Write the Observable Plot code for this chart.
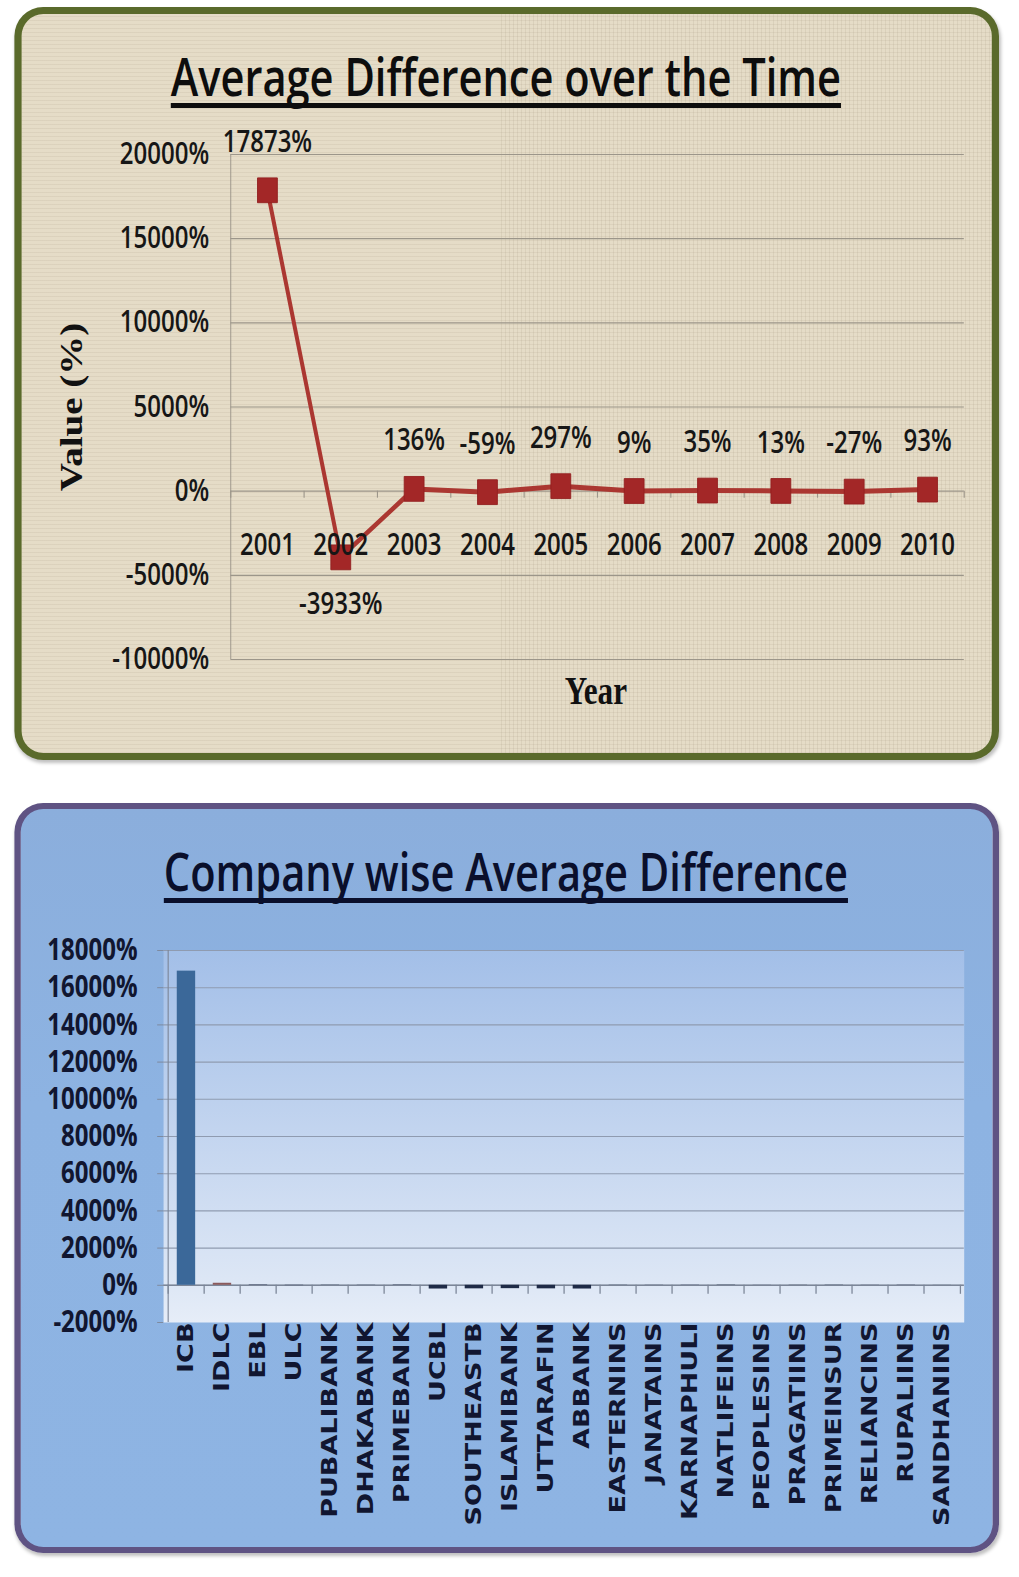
<!DOCTYPE html>
<html>
<head>
<meta charset="utf-8">
<script src="https://cdn.jsdelivr.net/npm/d3@7"></script>
<script src="https://cdn.jsdelivr.net/npm/@observablehq/plot@0.6"></script>
<style>
  html, body { margin: 0; padding: 0; background: #ffffff; }
  body { width: 1019px; height: 1577px; position: relative; overflow: hidden; }
  #stage { position: absolute; left: 0; top: 0; width: 1274px; height: 1577px;
           transform: scaleX(0.79984); transform-origin: 0 0; }
  .panel { position: absolute; box-sizing: border-box; }
  #p1 { left: 17.5px; top: 7px; width: 1231px; height: 753px;
        border-style: solid; border-color: #5a6a2b; border-width: 7px 9px;
        border-radius: 36px / 29px;
        background-color: #e5dcc7;
        background-image:
          repeating-linear-gradient(90deg, rgba(105,90,65,0.09) 0 1px, transparent 1px 5px),
          repeating-linear-gradient(0deg, rgba(105,90,65,0.08) 0 1px, transparent 1px 4px);
        box-shadow: 2px 3px 4px rgba(0,0,0,0.25); }
  #p2 { left: 17.5px; top: 803px; width: 1231px; height: 750px;
        border-style: solid; border-color: #5f5383; border-width: 6px 8px;
        border-radius: 36px / 29px;
        background: linear-gradient(#8baedc, #8db3e2 40%, #8eb4e3);
        box-shadow: 2px 3px 4px rgba(0,0,0,0.25); }
  .title { position: absolute; left: 0; width: 1265px; text-align: center;
           font-family: "Open Sans", "Noto Sans", sans-serif; font-size: 52px; line-height: 52px;
           font-weight: 600;
           text-decoration: underline; text-decoration-thickness: 5px; text-underline-offset: 7px;
           text-decoration-skip-ink: none; white-space: nowrap; }
  #t1 { top: 50px; color: #0d0d0d; }
  #t2 { top: 845px; color: #0a0f2b; }
  .chart { position: absolute; left: 0; }
  #c1 { top: 100px; }
  #c2 { top: 900px; }
</style>
</head>
<body>
<div id="stage">
  <div class="panel" id="p1"></div>
  <div class="panel" id="p2"></div>
  <div class="title" id="t1">Average Difference over the Time</div>
  <div class="chart" id="c1"></div>
  <div class="title" id="t2">Company wise Average Difference</div>
  <div class="chart" id="c2"></div>
</div>
<script>
// ---------- data: top chart ----------
const years = [2001, 2002, 2003, 2004, 2005, 2006, 2007, 2008, 2009, 2010];
const avgDiffPct = [17873, -3933, 136, -59, 297, 9, 35, 13, -27, 93];
const yTicksTop = [-10000, -5000, 0, 5000, 10000, 15000, 20000];

// ---------- data: bottom chart ----------
const companies = ["ICB", "IDLC", "EBL", "ULC", "PUBALIBANK", "DHAKABANK", "PRIMEBANK", "UCBL",
  "SOUTHEASTB", "ISLAMIBANK", "UTTARAFIN", "ABBANK", "EASTERNINS", "JANATAINS", "KARNAPHULI",
  "NATLIFEINS", "PEOPLESINS", "PRAGATIINS", "PRIMEINSUR", "RELIANCINS", "RUPALIINS", "SANDHANINS"];
const companyAvgDiffPct = [16890, 110, 20, -15, 12, 10, 18, -200, -190, -180, -190, -200,
  10, 8, -10, 15, 6, 9, 12, 7, 11, 5];
const yTicksBottom = [-2000, 0, 2000, 4000, 6000, 8000, 10000, 12000, 14000, 16000, 18000];

const W = 1274;
const calibriLike = "'Open Sans', 'Noto Sans', sans-serif";
const serif = "'Liberation Serif', 'DejaVu Serif', serif";
const pct = d => d + "%";

// ---------- top chart ----------
const rowsTop = years.map((year, i) => ({year, value: avgDiffPct[i]}));
const edgesTop = years.map(y => y - 0.5).concat([years[years.length - 1] + 0.5]);
const gridTop = "#9c968a";
const ink = "#161616";

const topPlot = Plot.plot({
  width: W, height: 640,
  marginTop: 54, marginBottom: 81, marginLeft: 288, marginRight: 69,
  style: {background: "transparent", fontFamily: calibriLike, overflow: "visible"},
  x: {domain: [edgesTop[0], edgesTop[edgesTop.length - 1]], axis: null},
  y: {domain: [yTicksTop[0], yTicksTop[yTicksTop.length - 1]], axis: null},
  marks: [
    Plot.gridY(yTicksTop, {stroke: gridTop, strokeOpacity: 1, strokeWidth: 1.2}),
    Plot.ruleX(edgesTop.slice(0, 1), {stroke: gridTop, strokeWidth: 1.2}),
    Plot.ruleX(edgesTop, {x: d => d, y1: 0, y2: 0, insetBottom: -7, stroke: gridTop, strokeWidth: 1.4}),
    Plot.axisY(yTicksTop, {tickSize: 0, tickPadding: 27, tickFormat: pct, fontSize: 30, fontWeight: 600, fill: ink, label: null}),
    Plot.lineY(rowsTop, {x: "year", y: "value", stroke: "#ab3731", strokeWidth: 5}),
    Plot.dot(rowsTop, {x: "year", y: "value", symbol: "square", r: 14, fill: "#a32727", stroke: "#932020", strokeWidth: 1}),
    Plot.text(rowsTop, {x: "year", y: 0, text: d => String(d.year), dy: 54, fontSize: 30, fontWeight: 600, fill: ink}),
    Plot.text(rowsTop.filter(d => d.value > -1000), {x: "year", y: "value", text: d => pct(d.value), dy: -48, fontSize: 30, fontWeight: 600, fill: ink}),
    Plot.text(rowsTop.filter(d => d.value <= -1000), {x: "year", y: "value", text: d => pct(d.value), dy: 47, fontSize: 30, fontWeight: 600, fill: ink}),
    Plot.text(["Value (%)"], {frameAnchor: "left", textAnchor: "middle", lineAnchor: "middle", rotate: -90, dx: -198,
      fontFamily: serif, fontWeight: "bold", fontSize: 39, fill: "#111"}),
    Plot.text(["Year"], {frameAnchor: "bottom", textAnchor: "middle", lineAnchor: "middle", dy: 32, dx: -2,
      fontFamily: serif, fontWeight: "bold", fontSize: 39, fill: "#111"})
  ]
});
document.getElementById("c1").appendChild(topPlot);

// ---------- bottom chart ----------
const rowsBottom = companies.map((company, i) => ({company, value: companyAvgDiffPct[i]}));
const mL = 204, mR = 69;
const step = (W - mL - mR) / companies.length;
const axisGrey = "#7c8698";
const navy = "#111630";

const bottomPlot = Plot.plot({
  width: W, height: 640,
  marginTop: 50, marginBottom: 218, marginLeft: mL, marginRight: mR,
  style: {background: "transparent", fontFamily: calibriLike, overflow: "visible"},
  x: {domain: companies, paddingInner: 0.5, paddingOuter: 0.25, axis: null},
  y: {domain: [yTicksBottom[0], yTicksBottom[yTicksBottom.length - 1]], axis: null},
  marks: [
    Plot.frame({fill: "url(#bottomBg)", stroke: null}),
    Plot.gridY(yTicksBottom.slice(1), {stroke: "#8f9bb0", strokeOpacity: 1, strokeWidth: 1.1}),
    Plot.ruleY([0], {stroke: axisGrey, strokeWidth: 1.4}),
    Plot.ruleX(companies, {x: d => d, y1: 0, y2: 0, insetBottom: -9, dx: -step / 2, stroke: axisGrey, strokeWidth: 1.6}),
    Plot.ruleX(companies.slice(-1), {x: d => d, y1: 0, y2: 0, insetBottom: -9, dx: step / 2, stroke: axisGrey, strokeWidth: 1.6}),
    Plot.ruleX(companies.slice(0, 1), {x: d => d, dx: -step / 2, stroke: axisGrey, strokeWidth: 1.4}),
    Plot.barY(rowsBottom, {x: "company", y: "value",
      fill: d => d.value > 1000 ? "#3b6899" : d.value > 50 ? "#8a5a5c" : "#1f2b47"}),
    Plot.axisY(yTicksBottom, {tickSize: 7.5, tickPadding: 25, tickFormat: pct, stroke: axisGrey,
      fontSize: 30, fontWeight: 700, fill: navy, label: null}),
    Plot.axisX({tickSize: 0, tickPadding: 0, tickRotate: -90, fontFamily: "'DejaVu Sans', Verdana, sans-serif",
      fontSize: 27, fontWeight: "bold", fill: navy, label: null})
  ]
});
const defs = d3.select(bottomPlot).insert("defs", ":first-child");
const grad = defs.append("linearGradient").attr("id", "bottomBg").attr("x1", 0).attr("y1", 0).attr("x2", 0).attr("y2", 1);
grad.append("stop").attr("offset", "0%").attr("stop-color", "#a3bfe8");
grad.append("stop").attr("offset", "88%").attr("stop-color", "#dce6f5");
grad.append("stop").attr("offset", "100%").attr("stop-color", "#e6edf8");
document.getElementById("c2").appendChild(bottomPlot);
</script>
</body>
</html>
